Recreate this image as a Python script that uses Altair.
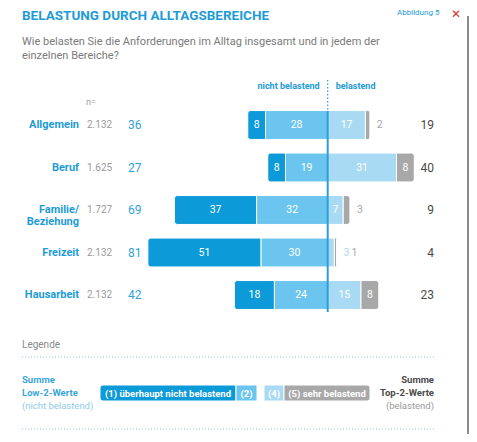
import altair as alt
import pandas as pd

# ---- data ----
categories = ["Allgemein", "Beruf", "Familie/\nBeziehung", "Freizeit", "Hausarbeit"]
n_values = ["2.132", "1.625", "1.727", "2.132", "2.132"]
not_at_all = [8, 8, 37, 51, 18]      # (1) ueberhaupt nicht belastend
rather_not = [28, 19, 32, 30, 24]    # (2)
rather = [17, 31, 7, 3, 15]          # (4)
very = [2, 8, 3, 1, 8]               # (5) sehr belastend
low2_sum = [36, 27, 69, 81, 42]
top2_sum = [19, 40, 9, 4, 23]

# ---- layout / style ----
W, H = 461, 426
X_DOMAIN = [-144.0, 63.65]
ROW0, STEP = 117.0, 42.5
Y_DOMAIN = [-ROW0 / STEP, (H - ROW0) / STEP]
HALF = 0.34

FONT = "Roboto"
DARK = "#0d9ad9"
MED = "#6cc5ee"
LIGHT = "#a9daf3"
GRAY = "#a8a8a8"
BLUE_TXT = "#1e9bd6"
DOT = "#8ccfdd"

XS = alt.Scale(domain=X_DOMAIN, nice=False, zero=False)
YS = alt.Scale(domain=Y_DOMAIN, nice=False, zero=False, reverse=True)

rows = []
for i, c in enumerate(categories):
    a, b, d, e = not_at_all[i], rather_not[i], rather[i], very[i]
    segs = [("s1", -(a + b), -b, a), ("s2", -b, 0, b), ("s4", 0, d, d), ("s5", d, d + e, e)]
    for s, x0, x1, v in segs:
        rows.append(dict(cat=c, row=i, seg=s, start=x0, end=x1, value=v, mid=(x0 + x1) / 2))
seg_df = pd.DataFrame(rows)

out_rows = []
for i in range(len(categories)):
    k = 0
    end = rather[i] + very[i]
    for s, v in (("s4", rather[i]), ("s5", very[i])):
        if v < 5:
            out_rows.append(dict(row=i, seg=s, x=end, text=str(v), k=k))
            k += 1
out_df = pd.DataFrame(out_rows)

row_df = pd.DataFrame(dict(row=list(range(len(categories))), cat=categories, n=n_values,
                           low=low2_sum, top=top2_sum))
one = pd.DataFrame({"a": [0]})

seg_color = alt.Color("seg:N", scale=alt.Scale(domain=["s1", "s2", "s4", "s5"],
                                              range=[DARK, MED, LIGHT, GRAY]), legend=None)

base = alt.Chart(seg_df).transform_calculate(y0=f"datum.row - {HALF}", y1=f"datum.row + {HALF}")


def bars(segs, **radius):
    return base.transform_filter(alt.FieldOneOfPredicate(field="seg", oneOf=segs)).mark_bar(
        stroke="white", strokeWidth=1, **radius).encode(
        x=alt.X("start:Q", scale=XS, axis=None), x2="end:Q",
        y=alt.Y("y0:Q", scale=YS, axis=None), y2="y1:Q", color=seg_color)


layers = [
    bars(["s1"], cornerRadiusTopLeft=3, cornerRadiusBottomLeft=3),
    bars(["s2", "s4"]),
    bars(["s5"], cornerRadiusTopRight=3, cornerRadiusBottomRight=3),
    # labels inside bars
    alt.Chart(seg_df).transform_filter("datum.value >= 5").mark_text(
        font=FONT, fontSize=10.5, color="white", baseline="middle").encode(
        x=alt.X("mid:Q", scale=XS, axis=None), y=alt.Y("row:Q", scale=YS, axis=None),
        text="value:Q"),
]
# small values outside the bar
for k, dx in ((0, 7), (1, 15)):
    layers.append(alt.Chart(out_df).transform_filter(f"datum.k == {k}").mark_text(
        font=FONT, fontSize=10.5, align="left", baseline="middle", dx=dx).encode(
        x=alt.X("x:Q", scale=XS, axis=None), y=alt.Y("row:Q", scale=YS, axis=None),
        text="text:N",
        color=alt.Color("seg:N", scale=alt.Scale(domain=["s4", "s5"], range=[LIGHT, GRAY]),
                        legend=None)))

# centre line (solid) and dotted header part
layers.append(alt.Chart(one).mark_rule(color="#2a9fd8", strokeWidth=2).encode(
    x=alt.X(datum=0, scale=XS, axis=None),
    y=alt.Y(datum=-0.33, scale=YS, axis=None), y2=alt.datum(len(categories) - 1 + 0.4)))
layers.append(alt.Chart(one).mark_rule(color="#2a9fd8", strokeWidth=1.2, strokeDash=[1.5, 2]).encode(
    x=alt.X(datum=0, scale=XS, axis=None),
    y=alt.Y(datum=-1.06, scale=YS, axis=None), y2=alt.datum(-0.33)))

# row text columns
layers += [
    alt.Chart(row_df).mark_text(font=FONT, fontSize=11, fontWeight="bold", color=BLUE_TXT,
                                align="right", baseline="middle", lineBreak="\n", lineHeight=12).encode(
        x=alt.value(71), y=alt.Y("row:Q", scale=YS, axis=None), text="cat:N"),
    alt.Chart(row_df).mark_text(font=FONT, fontSize=10, color="#9a9a9a", align="left",
                                baseline="middle").encode(
        x=alt.value(79), y=alt.Y("row:Q", scale=YS, axis=None), text="n:N"),
    alt.Chart(row_df).mark_text(font=FONT, fontSize=12, color="#2fa3d8", align="left",
                                baseline="middle").encode(
        x=alt.value(120), y=alt.Y("row:Q", scale=YS, axis=None), text="low:Q"),
    alt.Chart(row_df).mark_text(font=FONT, fontSize=12, color="#4a4a4a", align="right",
                                baseline="middle").encode(
        x=alt.value(426), y=alt.Y("row:Q", scale=YS, axis=None), text="top:Q"),
]


def label(txt, x, y, size=10, color="#777777", weight="normal", align="left", baseline="middle", font=FONT):
    return alt.Chart(one).mark_text(font=font, fontSize=size, color=color, fontWeight=weight,
                                    align=align, baseline=baseline).encode(
        x=alt.value(x), y=alt.value(y), text=alt.value(txt))


layers += [
    label("BELASTUNG DURCH ALLTAGSBEREICHE", 14, 8, size=13.5, color=BLUE_TXT, weight="bold"),
    label("Abbildung 5", 389, 5, size=8, color=BLUE_TXT),
    label("✕", 448, 6, size=12, color="#d9321f", weight="bold", align="center", font="DejaVu Sans"),
    label("Wie belasten Sie die Anforderungen im Alltag insgesamt und in jedem der", 14, 34,
          size=11, color="#7a7a7a"),
    label("einzelnen Bereiche?", 14, 48, size=11, color="#7a7a7a"),
    label("n=", 78, 94, size=9, color="#9a9a9a"),
    label("Legende", 14, 337, size=10, color="#8a8a8a"),
    label("Summe", 14, 372, size=9.5, color="#3aa6d8", weight="bold"),
    label("Low-2-Werte", 14, 385, size=9.5, color="#3aa6d8", weight="bold"),
    label("(nicht belastend)", 14, 398, size=9.5, color="#8fcbe8"),
    label("Summe", 426, 372, size=9.5, color="#4a4a4a", weight="bold", align="right"),
    label("Top-2-Werte", 426, 385, size=9.5, color="#4a4a4a", weight="bold", align="right"),
    label("(belastend)", 426, 398, size=9.5, color="#9a9a9a", align="right"),
]

# header texts placed relative to the centre line
layers.append(alt.Chart(one).mark_text(font=FONT, fontSize=9, fontWeight="bold", color=BLUE_TXT,
                                       align="right", baseline="middle", dx=-8).encode(
    x=alt.X(datum=0, scale=XS, axis=None), y=alt.value(78), text=alt.value("nicht belastend")))
layers.append(alt.Chart(one).mark_text(font=FONT, fontSize=9, fontWeight="bold", color=BLUE_TXT,
                                       align="left", baseline="middle", dx=8).encode(
    x=alt.X(datum=0, scale=XS, axis=None), y=alt.value(78), text=alt.value("belastend")))

# dotted separators of the legend box
for yy in (349, 421):
    layers.append(alt.Chart(one).mark_rule(color=DOT, strokeWidth=1, strokeDash=[1, 2]).encode(
        x=alt.value(14), x2=alt.value(426), y=alt.value(yy)))

# legend key
legend_keys = [
    ((92, 228), DARK, "(1) überhaupt nicht belastend", dict(cornerRadiusTopLeft=3, cornerRadiusBottomLeft=3)),
    ((228, 249), MED, "(2)", {}),
    ((256, 276), LIGHT, "(4)", {}),
    ((276, 362), GRAY, "(5) sehr belastend", dict(cornerRadiusTopRight=3, cornerRadiusBottomRight=3)),
]
for (x0, x1), col, txt, rad in legend_keys:
    layers.append(alt.Chart(one).mark_rect(color=col, stroke="white", strokeWidth=1, **rad).encode(
        x=alt.value(x0), x2=alt.value(x1), y=alt.value(377), y2=alt.value(393)))
    layers.append(alt.Chart(one).mark_text(font=FONT, fontSize=9.5, fontWeight="bold", color="white",
                                           baseline="middle").encode(
        x=alt.value((x0 + x1) / 2), y=alt.value(385.5), text=alt.value(txt)))

# window shadow on the right edge
layers.append(alt.Chart(one).mark_rect(color="#8c8c8c").encode(
    x=alt.value(459), x2=alt.value(461), y=alt.value(8), y2=alt.value(426)))

chart = alt.layer(*layers).properties(
    width=W, height=H, autosize=alt.AutoSizeParams(type="none"), padding=0, background="white"
).configure_view(stroke=None)

chart.save("out.html", embed_options={"renderer": "svg", "actions": False})
